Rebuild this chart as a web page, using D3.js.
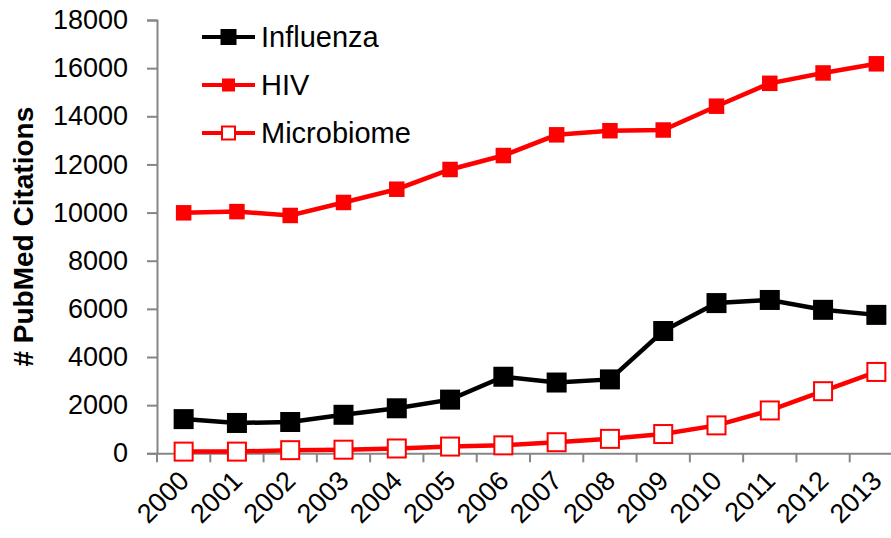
<!DOCTYPE html>
<html>
<head>
<meta charset="utf-8">
<script src="https://cdn.jsdelivr.net/npm/d3@7"></script>
<style>
  body { margin: 0; background: #fff; }
  text { font-family: "Liberation Sans", Arial, sans-serif; }
</style>
</head>
<body>
<div id="display"></div>
<script>
var years = ["2000","2001","2002","2003","2004","2005","2006","2007","2008","2009","2010","2011","2012","2013"];
var influenza = [1420, 1260, 1300, 1600, 1870, 2230, 3180, 2940, 3070, 5080, 6240, 6370, 5960, 5750];
var hiv = [9990, 10040, 9880, 10420, 10970, 11790, 12370, 13230, 13400, 13430, 14420, 15370, 15800, 16180];
var microbiome = [70, 70, 130, 150, 200, 280, 330, 460, 600, 800, 1160, 1780, 2580, 3380];
var yTicks = [0, 2000, 4000, 6000, 8000, 10000, 12000, 14000, 16000, 18000];

var W = 891, H = 538;
var svg = d3.select("#display").append("svg")
    .attr("width", W)
    .attr("height", H);

// last band runs past the right edge, as in the original
var x = d3.scaleBand()
    .domain(years)
    .range([157, 903]);

var y = d3.scaleLinear()
    .domain([0, 18000])
    .range([453.3, 20]);

var axisColour = "#868686";

// y axis
var yAxis = svg.append("g")
    .attr("transform", "translate(157,0)")
    .call(d3.axisLeft(y).tickValues(yTicks).tickSize(10).tickPadding(19).tickFormat(d3.format("d")));
yAxis.select(".domain").attr("stroke", axisColour).attr("stroke-width", 2);
yAxis.selectAll(".tick line").attr("stroke", axisColour).attr("stroke-width", 2);
yAxis.selectAll(".tick text")
    .attr("font-size", "27px")
    .attr("fill", "#000")
    .style("font-family", "Liberation Sans, Arial, sans-serif");

// x axis
var xAxis = svg.append("g")
    .attr("transform", "translate(0," + y(0) + ")")
    .call(d3.axisBottom(x).tickSize(0).tickFormat(""));
xAxis.select(".domain").attr("stroke", axisColour).attr("stroke-width", 2);
xAxis.selectAll(".tick").remove();

// tick marks between categories
var bounds = years.map(function(d) { return x(d); }).concat([x(years[years.length - 1]) + x.bandwidth()]);
xAxis.selectAll(".xt")
    .data(bounds)
    .enter().append("line")
      .attr("x1", function(d) { return d; })
      .attr("x2", function(d) { return d; })
      .attr("y1", 0)
      .attr("y2", 9)
      .attr("stroke", axisColour)
      .attr("stroke-width", 2);

xAxis.selectAll(".xl")
    .data(years)
    .enter().append("text")
      .attr("text-anchor", "end")
      .attr("font-size", "27px")
      .attr("fill", "#000")
      .attr("transform", function(d) {
        return "translate(" + (x(d) + x.bandwidth() / 2 + 7) + ",29) rotate(-45)";
      })
      .text(function(d) { return d; });

// y title
svg.append("text")
    .attr("transform", "translate(33," + ((y(0) + y(18000)) / 2) + ") rotate(-90)")
    .attr("text-anchor", "middle")
    .attr("font-size", "28px")
    .attr("font-weight", "bold")
    .attr("fill", "#000")
    .text("# PubMed Citations");

var cx = function(d, i) { return x(years[i]) + x.bandwidth() / 2; };

var series = [
  {name: "Influenza", values: influenza, stroke: "#000", fill: "#000", size: 20, key: 16},
  {name: "HIV", values: hiv, stroke: "#ff0000", fill: "#ff0000", size: 15.5, key: 13},
  {name: "Microbiome", values: microbiome, stroke: "#ff0000", fill: "#fff", size: 18, key: 13}
];

var line = d3.line()
    .x(cx)
    .y(function(d) { return y(d); });

series.forEach(function(s) {
  svg.append("path")
      .datum(s.values)
      .attr("fill", "none")
      .attr("stroke", s.stroke)
      .attr("stroke-width", 4.5)
      .attr("d", line);
});

series.forEach(function(s) {
  svg.append("g").selectAll("rect")
    .data(s.values)
    .enter().append("rect")
      .attr("x", function(d, i) { return cx(d, i) - s.size / 2; })
      .attr("y", function(d) { return y(d) - s.size / 2; })
      .attr("width", s.size)
      .attr("height", s.size)
      .attr("fill", s.fill)
      .attr("stroke", s.fill === "#fff" ? s.stroke : "none")
      .attr("stroke-width", 2);
});

// legend
var legend = svg.append("g")
    .selectAll("g")
    .data(series)
    .enter().append("g")
      .attr("transform", function(d, i) { return "translate(202," + (37 + i * 48) + ")"; });

legend.append("line")
    .attr("x1", 0)
    .attr("x2", 53)
    .attr("stroke", function(d) { return d.stroke; })
    .attr("stroke-width", 4);

legend.append("rect")
    .attr("x", function(d) { return 26.5 - d.key / 2; })
    .attr("y", function(d) { return -d.key / 2; })
    .attr("width", function(d) { return d.key; })
    .attr("height", function(d) { return d.key; })
    .attr("fill", function(d) { return d.fill; })
    .attr("stroke", function(d) { return d.fill === "#fff" ? d.stroke : "none"; })
    .attr("stroke-width", 2);

legend.append("text")
    .attr("x", 59)
    .attr("dy", "0.36em")
    .attr("font-size", "29px")
    .attr("fill", "#000")
    .text(function(d) { return d.name; });
</script>
</body>
</html>
